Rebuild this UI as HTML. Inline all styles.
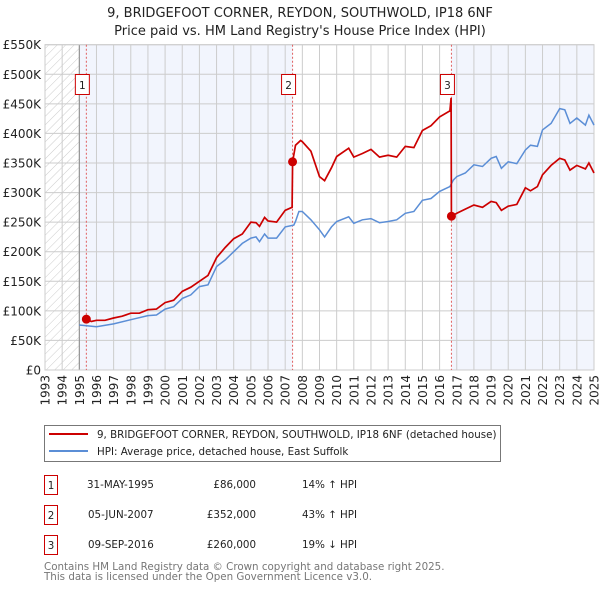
<!DOCTYPE html>
<html><head><meta charset="utf-8"><style>
body{margin:0;background:#fff;}
svg text{font-family:"DejaVu Sans","Liberation Sans",sans-serif;}
</style></head><body>
<svg id="chart" width="600" height="590" viewBox="0 0 600 590" xmlns="http://www.w3.org/2000/svg">
<defs>
<pattern id="hatch" patternUnits="userSpaceOnUse" width="6" height="6" patternTransform="rotate(45)">
<line x1="0" y1="0" x2="0" y2="6" stroke="#ccc" stroke-width="1"/>
</pattern>
</defs>
<text x="300" y="17" text-anchor="middle" font-size="13" fill="#222">9, BRIDGEFOOT CORNER, REYDON, SOUTHWOLD, IP18 6NF</text>
<text x="300" y="35" text-anchor="middle" font-size="13" fill="#222">Price paid vs. HM Land Registry's House Price Index (HPI)</text>
<g id="plot"></g>
<g>
<rect x="44.5" y="425.5" width="456" height="36" fill="#fff" stroke="#777"/>
<line x1="49" y1="434" x2="88" y2="434" stroke="#cc0000" stroke-width="2"/>
<text x="97" y="438" font-size="10.3" fill="#222">9, BRIDGEFOOT CORNER, REYDON, SOUTHWOLD, IP18 6NF (detached house)</text>
<line x1="49" y1="451" x2="88" y2="451" stroke="#5b8ed6" stroke-width="2"/>
<text x="97" y="455" font-size="10.3" fill="#222">HPI: Average price, detached house, East Suffolk</text>
</g>
<g font-size="10.3" fill="#222">
<rect x="44.5" y="475.5" width="13" height="19" fill="none" stroke="#cc0000"/><text x="51" y="489" text-anchor="middle">1</text>
<text x="87" y="488">31-MAY-1995</text><text x="256" y="488" text-anchor="end">£86,000</text><text x="302" y="488">14% ↑ HPI</text>
<rect x="44.5" y="505.5" width="13" height="19" fill="none" stroke="#cc0000"/><text x="51" y="519" text-anchor="middle">2</text>
<text x="88" y="518">05-JUN-2007</text><text x="256" y="518" text-anchor="end">£352,000</text><text x="302" y="518">43% ↑ HPI</text>
<rect x="44.5" y="535.5" width="13" height="19" fill="none" stroke="#cc0000"/><text x="51" y="549" text-anchor="middle">3</text>
<text x="88" y="548">09-SEP-2016</text><text x="256" y="548" text-anchor="end">£260,000</text><text x="302" y="548">19% ↓ HPI</text>
</g>
<text x="44" y="570" font-size="10.3" fill="#777">Contains HM Land Registry data © Crown copyright and database right 2025.</text>
<text x="44" y="580" font-size="10.3" fill="#777">This data is licensed under the Open Government Licence v3.0.</text>
</svg>
<script>
const hpiYears=[1995,1996,1997,1998,1999,1999.5,2000,2000.5,2001,2001.5,2002,2002.5,2003,2003.5,2004,2004.5,2005,2005.3,2005.5,2005.8,2006,2006.5,2007,2007.5,2007.6,2007.8,2008,2008.5,2009,2009.3,2009.7,2010,2010.7,2011,2011.5,2012,2012.5,2013,2013.5,2014,2014.5,2015,2015.5,2016,2016.6,2016.8,2017,2017.5,2018,2018.5,2019,2019.3,2019.6,2020,2020.5,2021,2021.3,2021.7,2022,2022.5,2023,2023.3,2023.6,2024,2024.5,2024.7,2025];
const hpiValues=[76,73,78,85,92,93,103,107,121,127,141,144,175,186,200,214,223,225,217,230,223,223,242,245,251,268,268,254,237,225,242,251,259,248,254,256,249,251,254,265,268,287,290,302,310,321,327,333,347,344,358,361,341,352,349,372,380,378,406,417,442,440,417,426,414,431,414];
const priceYears=[1995.41,1995.7,1996,1996.5,1997,1997.5,1998,1998.5,1999,1999.5,2000,2000.5,2001,2001.5,2002,2002.5,2003,2003.5,2004,2004.5,2005,2005.3,2005.5,2005.8,2006,2006.5,2007,2007.4,2007.43,2007.6,2007.9,2008,2008.5,2009,2009.3,2009.7,2010,2010.7,2011,2011.5,2012,2012.5,2013,2013.5,2014,2014.5,2015,2015.5,2016,2016.6,2016.67,2016.69,2017,2017.5,2018,2018.5,2019,2019.3,2019.6,2020,2020.5,2021,2021.3,2021.7,2022,2022.5,2023,2023.3,2023.6,2024,2024.5,2024.7,2025];
const priceValues=[86,82,84,84,88,91,96,96,102,103,114,118,133,140,150,160,190,207,222,230,250,249,243,258,252,250,270,275,352,380,388,386,370,327,320,342,361,375,360,366,373,360,363,360,378,376,405,413,428,438,460,260,265,272,279,275,285,283,270,277,280,308,303,310,330,346,358,355,338,346,340,350,333];
const saleYears=[1995.41,2007.43,2016.69];
const saleValues=[86,352,260];
const saleLabels=["1","2","3"];
const yTicks=[0,50,100,150,200,250,300,350,400,450,500,550];
const yTickLabels=["£0","£50K","£100K","£150K","£200K","£250K","£300K","£350K","£400K","£450K","£500K","£550K"];
const xTickYears=[1993,1994,1995,1996,1997,1998,1999,2000,2001,2002,2003,2004,2005,2006,2007,2008,2009,2010,2011,2012,2013,2014,2015,2016,2017,2018,2019,2020,2021,2022,2023,2024,2025];

const X0=45,X1=594,Y0=370,Y1=44.7;
const xs=y=>X0+(y-1993)/(2025-1993)*(X1-X0);
const ys=v=>Y0-v/550*(Y0-Y1);
const NS="http://www.w3.org/2000/svg";
const g=document.getElementById('plot');
function mk(t,a){const e=document.createElementNS(NS,t);for(const k in a)e.setAttribute(k,a[k]);g.appendChild(e);return e;}

let e=mk('rect',{x:X0,y:Y1,width:X1-X0,height:Y0-Y1,fill:'#fff'});


e=mk('rect',{x:xs(1993),y:Y1,width:xs(1995)-xs(1993),height:Y0-Y1,fill:'url(#hatch)'});


e=mk('rect',{x:xs(1995),y:Y1,width:xs(saleYears[1])-xs(1995),height:Y0-Y1,fill:'#f2f5fd'});


e=mk('rect',{x:xs(saleYears[2]),y:Y1,width:X1-xs(saleYears[2]),height:Y0-Y1,fill:'#f2f5fd'});



yTicks.forEach((v,i)=>{
  const l=mk('line',{x1:X0,x2:X1,y1:ys(v),y2:ys(v),stroke:'#ccc','stroke-width':1});
  
  
  const t=mk('text',{x:41,y:ys(v)+4.5,'text-anchor':'end','font-size':12,fill:'#222'});
  t.textContent=yTickLabels[i];
  
  
});
xTickYears.forEach(y=>{
  const l=mk('line',{x1:xs(y),x2:xs(y),y1:Y1,y2:Y0,stroke:'#ccc','stroke-width':1});
  
  
  const t=mk('text',{x:0,y:0,'font-size':12,fill:'#222','text-anchor':'end',transform:`translate(${xs(y)+4.5},375) rotate(-90)`});
  t.textContent=String(y);
  
  
});
e=mk('line',{x1:xs(1995),x2:xs(1995),y1:Y1,y2:Y0,stroke:'#888','stroke-width':1});


e=mk('rect',{x:X0,y:Y1,width:X1-X0,height:Y0-Y1,fill:'none',stroke:'#ccc'});



saleYears.forEach((y,i)=>{
  const l=mk('line',{x1:xs(y),x2:xs(y),y1:Y1,y2:Y0,stroke:'#e06060','stroke-width':1,'stroke-dasharray':'2,2'});
  
  
});

const path=(xsA,vs)=>xsA.map((y,i)=>(i?'L':'M')+xs(y).toFixed(1)+','+ys(vs[i]).toFixed(1)).join('');
e=mk('path',{d:path(hpiYears,hpiValues),fill:'none',stroke:'#5b8ed6','stroke-width':1.5});


e=mk('path',{d:path(priceYears,priceValues),fill:'none',stroke:'#cc0000','stroke-width':1.7});



saleYears.forEach((y,i)=>{
  const c=mk('circle',{cx:xs(y),cy:ys(saleValues[i]),r:4.5,fill:'#cc0000'});
  
  
  const bx=xs(y)-4;
  const r=mk('rect',{x:bx-7,y:74.5,width:14,height:20,fill:'#fff',stroke:'#cc0000'});
  
  
  const t=mk('text',{x:bx,y:89,'text-anchor':'middle','font-size':10.5,fill:'#222'});
  t.textContent=saleLabels[i];
  
  
});
</script>
</body></html>
